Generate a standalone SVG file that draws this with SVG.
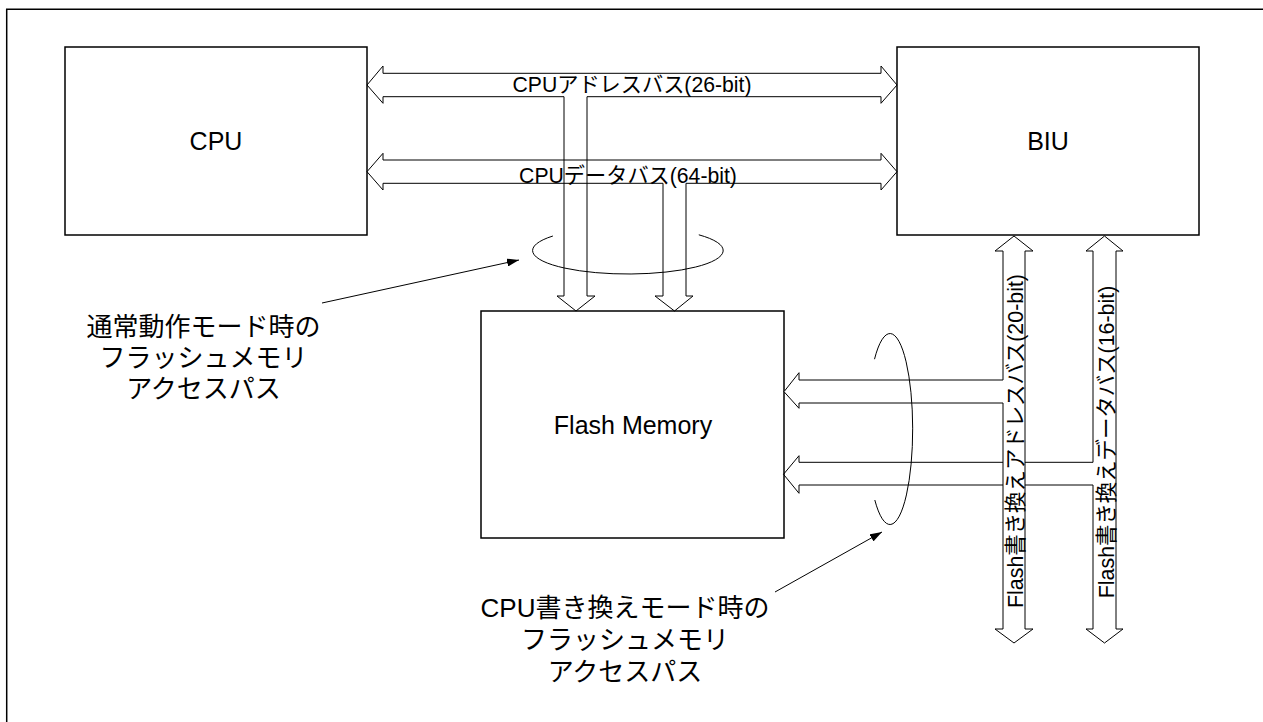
<svg xmlns="http://www.w3.org/2000/svg" width="1263" height="722" viewBox="0 0 1263 722">
<defs>
<style>
.box{fill:#fff;stroke:#000;stroke-width:1.5}
.bus{fill:none;stroke:#000;stroke-width:1}
.busw{fill:#fff;stroke:#000;stroke-width:1}
.loop{fill:none;stroke:#000;stroke-width:1}
.ann{fill:none;stroke:#000;stroke-width:1;marker-end:url(#ah)}
text{font-family:"Liberation Sans","Noto Sans CJK JP",sans-serif;fill:#000}
.lbl{font-size:25px;text-anchor:middle}
.bl{font-size:21.2px;text-anchor:middle}
.vl{font-size:21.4px;text-anchor:middle}
.note{font-size:26px;text-anchor:middle}
</style>
<marker id="ah" viewBox="0 0 12 8" refX="12" refY="4" markerWidth="12" markerHeight="8" markerUnits="userSpaceOnUse" orient="auto">
<path d="M0,0 L12,4 L0,8 z" fill="#000"/>
</marker>
</defs>
<rect width="1263" height="722" fill="#fff"/>
<path d="M6.7,722 V9.3 H1263" fill="none" stroke="#000" stroke-width="1.5"/>

<g id="cpu">
<rect class="box" x="65" y="47" width="302" height="188"/>
<text class="lbl" x="216" y="150">CPU</text>
</g>
<g id="biu">
<rect class="box" x="897" y="47" width="302" height="188"/>
<text class="lbl" x="1048" y="150">BIU</text>
</g>
<g id="flash">
<rect class="box" x="481" y="311" width="303" height="227"/>
<text class="lbl" x="633" y="434">Flash Memory</text>
</g>

<g id="connectors">
<path id="cpu-addr-bus" class="bus" d="M367,85 L383,66 L383,73.3 L881,73.3 L881,66 L897,85 L881,103.3 L881,96.7 L587,96.7 L587,296 L595,296 L576,311 L557,296 L564,296 L564,96.7 L383,96.7 L383,103.3 Z"/>
<path id="cpu-data-bus" class="bus" d="M367,171.7 L383,153.3 L383,160 L881,160 L881,153.3 L897,171.7 L881,190 L881,183.3 L686,183.3 L686,296 L693,296 L674.5,311 L655,296 L663,296 L663,183.3 L383,183.3 L383,190 Z"/>
<text class="bl" x="632" y="92">CPUアドレスバス(26-bit)</text>
<text class="bl" x="628" y="183">CPUデータバス(64-bit)</text>

<path id="flash-data-bus" class="bus" d="M1104.5,236 L1123,251 L1116,251 L1116,629 L1123,629 L1104.5,643 L1086,629 L1093,629 L1093,485 L799,485 L799,493.3 L783.5,474.3 L799,455.7 L799,462.3 L1093,462.3 L1093,251 L1086,251 Z"/>
<path id="flash-addr-bus" class="busw" d="M1014,236 L1033,251 L1025,251 L1025,629 L1033,629 L1014,643 L995,629 L1003,629 L1003,403 L799,403 L799,408.3 L784,391.7 L799,372.7 L799,380 L1003,380 L1003,251 L995,251 Z"/>
<text class="vl" transform="translate(1022.5,441) rotate(-90)">Flash書き換えアドレスバス(20-bit)</text>
<text class="vl" transform="translate(1113.5,442) rotate(-90)">Flash書き換えデータバス(16-bit)</text>

<path class="loop" d="M552.9,236 A95.3,23.5 0 1 0 698.8,234.8"/>
<path class="loop" d="M874.5,359.2 A22.7,95.5 0 1 1 874.8,500"/>
<path class="ann" d="M322,303 L519,260"/>
<path class="ann" d="M775,592 L882,532"/>
</g>

<g id="note-normal">
<text class="note" x="203.5" y="336">通常動作モード時の</text>
<text class="note" x="203.5" y="367">フラッシュメモリ</text>
<text class="note" x="203.5" y="398">アクセスパス</text>
</g>
<g id="note-rewrite">
<text class="note" x="625" y="617">CPU書き換えモード時の</text>
<text class="note" x="625" y="649">フラッシュメモリ</text>
<text class="note" x="625" y="681">アクセスパス</text>
</g>
</svg>
